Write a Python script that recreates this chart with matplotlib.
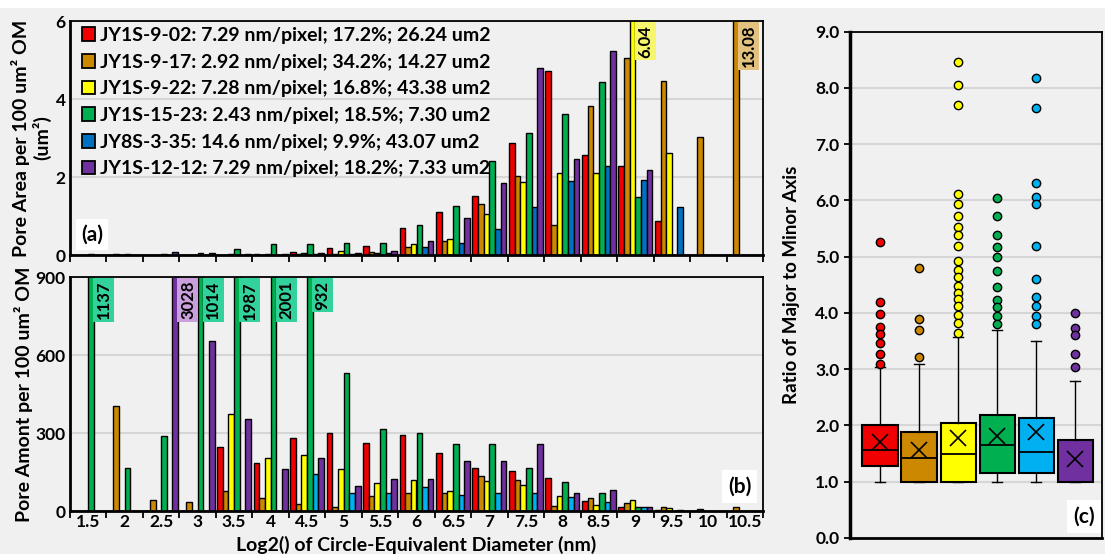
import numpy as np
import matplotlib
matplotlib.use('Agg')
import matplotlib.pyplot as plt
from matplotlib.patches import Patch, Rectangle

plt.rcParams['font.family'] = ['Lato', 'DejaVu Sans']
plt.rcParams['font.weight'] = 'bold'
plt.rcParams['axes.labelweight'] = 'bold'

# log2 diameter classes
cats = ['1.5', '2', '2.5', '3', '3.5', '4', '4.5', '5', '5.5', '6', '6.5',
        '7', '7.5', '8', '8.5', '9', '9.5', '10', '10.5']

samples = ['JY1S-9-02: 7.29 nm/pixel; 17.2%; 26.24 um2',
           'JY1S-9-17: 2.92 nm/pixel; 34.2%; 14.27 um2',
           'JY1S-9-22: 7.28 nm/pixel; 16.8%; 43.38 um2',
           'JY1S-15-23: 2.43 nm/pixel; 18.5%; 7.30 um2',
           'JY8S-3-35: 14.6 nm/pixel; 9.9%; 43.07 um2',
           'JY1S-12-12: 7.29 nm/pixel; 18.2%; 7.33 um2']

# (a) pore area per 100 um2 OM
red_area = [0, 0, 0, 0, 0.01, 0.03, 0.07, 0.18, 0.24, 0.68, 1.10, 1.51, 2.88, 4.73, 2.57, 2.27, 0.88, 0, 0]
orange_area = [0, 0.02, 0.01, 0.01, 0.01, 0.01, 0.02, 0.03, 0.08, 0.21, 0.36, 1.31, 2.03, 0.76, 3.83, 5.04, 4.45, 3.03, 13.08]
yellow_area = [0, 0, 0, 0, 0.02, 0.02, 0.05, 0.09, 0.06, 0.27, 0.41, 1.04, 1.88, 2.11, 2.10, 6.04, 2.61, 0, 0]
green_area = [0.02, 0.02, 0.02, 0.04, 0.15, 0.27, 0.27, 0.30, 0.30, 0.76, 1.26, 2.41, 3.14, 3.62, 4.43, 1.49, 0, 0, 0]
blue_area = [0, 0, 0, 0, 0, 0.01, 0.02, 0.02, 0.05, 0.21, 0.30, 0.66, 1.22, 1.90, 2.28, 1.92, 1.22, 0, 0]
purple_area = [0, 0, 0.07, 0.04, 0.03, 0.02, 0.06, 0.06, 0.10, 0.37, 0.94, 1.85, 4.80, 2.46, 5.24, 2.18, 0, 0, 0]

# (b) pore amount per 100 um2 OM
red_count = [0, 0, 0, 0, 246, 186, 281, 300, 263, 293, 224, 166, 154, 127, 38, 14, 2, 0, 0]
orange_count = [0, 405, 42, 33, 77, 50, 28, 14, 57, 68, 68, 135, 119, 21, 49, 32, 14, 8, 15]
yellow_count = [0, 0, 0, 0, 374, 204, 215, 160, 106, 119, 76, 115, 99, 57, 23, 42, 10, 0, 0]
green_count = [1137, 165, 290, 1014, 1987, 2001, 932, 532, 317, 301, 259, 259, 166, 112, 69, 14, 0, 0, 0]
blue_count = [0, 0, 0, 0, 0, 0, 141, 68, 68, 91, 62, 68, 68, 52, 33, 14, 4, 0, 0]
purple_count = [0, 0, 3028, 653, 355, 163, 204, 95, 123, 123, 193, 193, 259, 68, 81, 14, 0, 0, 0]

# (c) ratio of major to minor axis, box statistics
box_q1 = [1.28, 1.00, 1.00, 1.15, 1.15, 1.00]
box_med = [1.56, 1.43, 1.50, 1.66, 1.52, 1.00]
box_q3 = [2.00, 1.88, 2.05, 2.18, 2.13, 1.75]
box_mean = [1.70, 1.56, 1.77, 1.81, 1.88, 1.40]
box_lo = [1.00, 1.00, 1.00, 1.00, 1.00, 1.00]
box_hi = [3.04, 3.09, 3.58, 3.69, 3.50, 2.79]
box_fliers = [
    [5.27, 4.20, 3.98, 3.75, 3.62, 3.47, 3.27, 3.10],
    [4.80, 3.89, 3.69, 3.21],
    [8.47, 8.06, 7.70, 6.12, 5.93, 5.73, 5.53, 5.38, 5.19, 4.93, 4.77, 4.64,
     4.48, 4.36, 4.25, 4.12, 3.97, 3.82, 3.65],
    [6.05, 5.73, 5.39, 5.17, 5.00, 4.75, 4.46, 4.23, 4.11, 3.95, 3.80],
    [8.17, 7.64, 6.31, 6.07, 5.93, 5.19, 4.61, 4.29, 4.13, 3.94, 3.81],
    [4.00, 3.74, 3.61, 3.27, 3.04],
]

cols_a = ['#F00000', '#CC8800', '#FFFF00', '#00B050', '#0070C0', '#7030A0']
cols_b = ['#F00000', '#CC8800', '#FFFF00', '#00B050', '#00B0F0', '#7030A0']
tag_cols = {1: '#E3C27F', 2: '#F5F56E', 3: '#33D19C', 5: '#C9A0DC'}
bg = '#F0F0F0'
W, H = 1105, 554

fig = plt.figure(figsize=(W / 100, H / 100), dpi=100, facecolor='white')
fig.patches.append(Rectangle((0, 0), 1, 1 - 8 / H, transform=fig.transFigure,
                             facecolor=bg, edgecolor='none', zorder=-10))

ax_a = fig.add_axes([70 / W, 1 - 255 / H, 693 / W, 234 / H])
ax_b = fig.add_axes([70 / W, 1 - 511 / H, 693 / W, 234 / H])
ax_c = fig.add_axes([850 / W, 1 - 538 / H, 252 / W, 506.3 / H])

x = np.arange(len(cats))
w = 0.155
area_sets = [red_area, orange_area, yellow_area, green_area, blue_area, purple_area]
count_sets = [red_count, orange_count, yellow_count, green_count, blue_count, purple_count]


def draw_bars(ax, sets, cols, top, fmt):
    for i, vals in enumerate(sets):
        xs = x + (i - 2.5) * w
        ax.bar(xs, vals, w, color=cols[i], edgecolor='black', linewidth=1.0, zorder=2)
        for xv, v in zip(xs, vals):
            if v > top:
                ax.text(xv + w / 2 + 0.05, top * 0.983, fmt.format(v), rotation=90,
                        ha='left', va='top', fontsize=12, zorder=4,
                        bbox=dict(boxstyle='square,pad=0.15', fc=tag_cols[i], ec='none'))
    ax.set_xlim(-0.5, len(cats) - 0.5)
    ax.set_ylim(0, top)
    ax.set_facecolor(bg)
    ax.yaxis.grid(True, color='#D6D6D6', lw=1.5, zorder=0)
    ax.set_axisbelow(True)
    ax.set_xticks(np.arange(-0.5, len(cats), 1))
    ax.set_xticklabels([])
    ax.tick_params(axis='x', which='major', direction='out', length=5, width=1.3)
    ax.tick_params(axis='y', length=0, labelsize=12.5, pad=3)
    for s in ax.spines.values():
        s.set_linewidth(1.3)
    ax.spines['left'].set_linewidth(2)
    ax.spines['bottom'].set_linewidth(2)


draw_bars(ax_a, area_sets, cols_a, 6, '{:.2f}')
ax_a.set_yticks([0, 2, 4, 6])
ax_a.set_ylabel('Pore Area per 100 um² OM\n(um²)', fontsize=14, linespacing=1.15)
ax_a.yaxis.set_label_coords(-0.027, 0.5)
handles = [Patch(facecolor=c, edgecolor='black', lw=1.3) for c in cols_a]
ax_a.legend(handles, samples, loc='upper left', bbox_to_anchor=(0.0, 1.025), frameon=False,
            fontsize=14, handlelength=0.7, handleheight=0.7, handletextpad=0.25,
            labelspacing=0.5, borderaxespad=0.2)
ax_a.text(0.016, 0.045, '(a)', transform=ax_a.transAxes, fontsize=15, ha='left', va='bottom',
          bbox=dict(boxstyle='square,pad=0.25', fc='white', ec='none'), zorder=5)

draw_bars(ax_b, count_sets, cols_b, 900, '{:d}')
ax_b.set_yticks([0, 300, 600, 900])
ax_b.set_xticks(x, minor=True)
ax_b.set_xticklabels(cats, minor=True, fontsize=12.5)
ax_b.tick_params(axis='x', which='minor', length=0, pad=2.5)
ax_b.set_ylabel('Pore Amont per 100 um² OM', fontsize=14)
ax_b.yaxis.set_label_coords(-0.053, 0.5)
ax_b.set_xlabel('Log2() of Circle-Equivalent Diameter (nm)', fontsize=14)
ax_b.xaxis.set_label_coords(0.5, -0.108)
ax_b.xaxis.label.set_va('top')
ax_b.text(0.966, 0.104, '(b)', transform=ax_b.transAxes, fontsize=15, ha='center', va='center',
          bbox=dict(boxstyle='square,pad=0.3', fc='white', ec='none'), zorder=5)

stats = []
for i in range(6):
    stats.append(dict(q1=box_q1[i], med=box_med[i], q3=box_q3[i], mean=box_mean[i],
                      whislo=box_lo[i], whishi=box_hi[i], fliers=box_fliers[i]))
res = ax_c.bxp(stats, positions=range(1, 7), widths=0.9, patch_artist=True, showmeans=True,
               capwidths=0.25,
               boxprops=dict(edgecolor='black', linewidth=1.5),
               medianprops=dict(color='black', linewidth=1.3),
               whiskerprops=dict(color='black', linewidth=1.0),
               capprops=dict(color='black', linewidth=1.0),
               meanprops=dict(marker='x', markeredgecolor='black', markersize=11, markeredgewidth=1.2),
               flierprops=dict(marker='o', markersize=6, markeredgecolor='black', markeredgewidth=1.0))
for i, b in enumerate(res['boxes']):
    b.set_facecolor(cols_b[i])
for i, f in enumerate(res['fliers']):
    f.set_markerfacecolor(cols_b[i])
ax_c.set_xlim(0.23, 6.69)
ax_c.set_ylim(0, 9)
ax_c.set_facecolor(bg)
ax_c.set_yticks(np.arange(0, 10, 1))
ax_c.set_yticklabels(['{:.1f}'.format(v) for v in range(10)])
ax_c.yaxis.grid(True, color='#D6D6D6', lw=1.5, zorder=0)
ax_c.set_axisbelow(True)
ax_c.set_xticks([])
ax_c.tick_params(axis='y', direction='out', length=4, width=1.3, labelsize=12.5)
for s in ax_c.spines.values():
    s.set_linewidth(1.3)
ax_c.spines['left'].set_linewidth(2.5)
ax_c.spines['bottom'].set_linewidth(2)
ax_c.set_ylabel('Ratio of Major to Minor Axis', fontsize=13.5)
ax_c.yaxis.set_label_coords(-0.198, 0.5)
ax_c.text(0.929, 0.042, '(c)', transform=ax_c.transAxes, fontsize=15, ha='center', va='center',
          bbox=dict(boxstyle='square,pad=0.3', fc='white', ec='none'), zorder=5)

fig.savefig('out.png', dpi=100, facecolor=fig.get_facecolor())
